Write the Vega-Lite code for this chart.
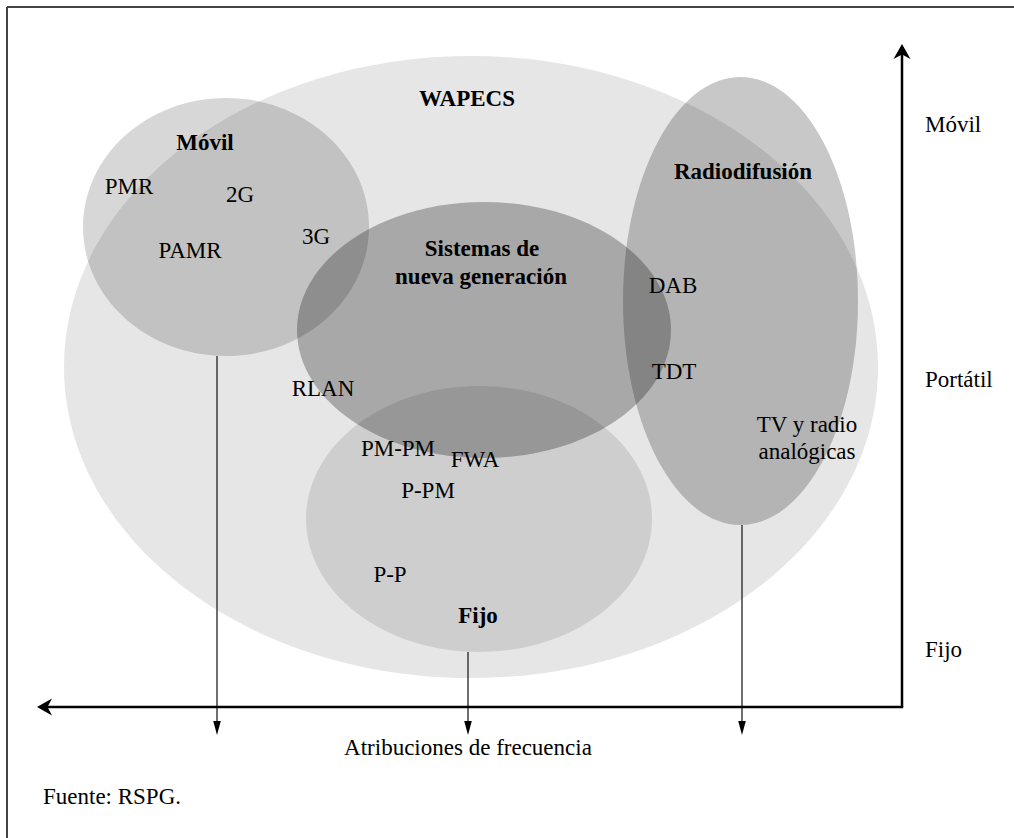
{
  "$schema": "https://vega.github.io/schema/vega-lite/v6.json",
  "width": 1014,
  "height": 838,
  "padding": 0,
  "autosize": {"type": "none"},
  "background": "white",
  "config": {"view": {"stroke": null}},
  "datasets": {
    "ellipses": [
      {"name": "WAPECS", "x": 471, "y": 367},
      {"name": "Fijo", "x": 479, "y": 519},
      {"name": "Móvil", "x": 226, "y": 227},
      {"name": "Radiodifusión", "x": 740.5, "y": 301},
      {"name": "Sistemas", "x": 484, "y": 330}
    ],
    "frame": [
      {"x": 7, "y": 7, "x2": 1014, "y2": 7},
      {"x": 7, "y": 7, "x2": 7, "y2": 838}
    ],
    "axes": [
      {"x": 902, "y": 707, "x2": 902, "y2": 54},
      {"x": 903.2, "y": 707, "x2": 46, "y2": 707}
    ],
    "thin": [
      {"x": 217, "y": 356, "x2": 217, "y2": 724},
      {"x": 468, "y": 652, "x2": 468, "y2": 724},
      {"x": 742, "y": 525, "x2": 742, "y2": 724}
    ],
    "heads": [
      {"dir": "up", "x": 902, "y": 52},
      {"dir": "left", "x": 45, "y": 707},
      {"dir": "down", "x": 217, "y": 728},
      {"dir": "down", "x": 468, "y": 728},
      {"dir": "down", "x": 742, "y": 728}
    ],
    "bold": [
      {"label": "WAPECS", "x": 467, "y": 99},
      {"label": "Móvil", "x": 205, "y": 143},
      {"label": "Sistemas de", "x": 482, "y": 249},
      {"label": "nueva generación", "x": 481, "y": 277},
      {"label": "Radiodifusión", "x": 743, "y": 172},
      {"label": "Fijo", "x": 478, "y": 616}
    ],
    "regular": [
      {"label": "PMR", "x": 129, "y": 187},
      {"label": "2G", "x": 240, "y": 195},
      {"label": "3G", "x": 316, "y": 237},
      {"label": "PAMR", "x": 190, "y": 251},
      {"label": "DAB", "x": 673, "y": 286},
      {"label": "TDT", "x": 674, "y": 372},
      {"label": "TV y radio", "x": 807, "y": 425},
      {"label": "analógicas", "x": 807, "y": 452},
      {"label": "RLAN", "x": 323, "y": 389},
      {"label": "PM-PM", "x": 398, "y": 449},
      {"label": "FWA", "x": 475, "y": 460},
      {"label": "P-PM", "x": 428, "y": 491},
      {"label": "P-P", "x": 390, "y": 575},
      {"label": "Atribuciones de frecuencia", "x": 468, "y": 748}
    ],
    "left": [
      {"label": "Móvil", "x": 925, "y": 125},
      {"label": "Portátil", "x": 925, "y": 380},
      {"label": "Fijo", "x": 925, "y": 650},
      {"label": "Fuente: RSPG.", "x": 43, "y": 797}
    ]
  },
  "encoding": {
    "x": {"field": "x", "type": "quantitative", "scale": {"domain": [0, 1014], "nice": false, "zero": false}, "axis": null},
    "y": {"field": "y", "type": "quantitative", "scale": {"domain": [0, 838], "nice": false, "zero": false, "reverse": true}, "axis": null}
  },
  "layer": [
    {
      "data": {"name": "ellipses"},
      "transform": [{"filter": "datum.name === 'WAPECS'"}],
      "mark": {"type": "point", "filled": true, "size": 4, "strokeWidth": 0, "fill": "#e6e6e6", "opacity": 1,
        "shape": "M407,0C407,171.8,224.8,311,0,311C-224.8,311,-407,171.8,-407,0C-407,-171.8,-224.8,-311,0,-311C224.8,-311,407,-171.8,407,0Z"}
    },
    {
      "data": {"name": "ellipses"},
      "transform": [{"filter": "datum.name === 'Fijo'"}],
      "mark": {"type": "point", "filled": true, "size": 4, "strokeWidth": 0, "fill": "#000000", "opacity": 0.1,
        "shape": "M173,0C173,73.5,95.5,133,0,133C-95.5,133,-173,73.5,-173,0C-173,-73.5,-95.5,-133,0,-133C95.5,-133,173,-73.5,173,0Z"}
    },
    {
      "data": {"name": "ellipses"},
      "transform": [{"filter": "datum.name === 'Móvil'"}],
      "mark": {"type": "point", "filled": true, "size": 4, "strokeWidth": 0, "fill": "#000000", "opacity": 0.155,
        "shape": "M143,0C143,71.2,79,129,0,129C-79,129,-143,71.2,-143,0C-143,-71.2,-79,-129,0,-129C79,-129,143,-71.2,143,0Z"}
    },
    {
      "data": {"name": "ellipses"},
      "transform": [{"filter": "datum.name === 'Radiodifusión'"}],
      "mark": {"type": "point", "filled": true, "size": 4, "strokeWidth": 0, "fill": "#000000", "opacity": 0.215,
        "shape": "M117.5,0C117.5,123.7,64.9,224,0,224C-64.9,224,-117.5,123.7,-117.5,0C-117.5,-123.7,-64.9,-224,0,-224C64.9,-224,117.5,-123.7,117.5,0Z"}
    },
    {
      "data": {"name": "ellipses"},
      "transform": [{"filter": "datum.name === 'Sistemas'"}],
      "mark": {"type": "point", "filled": true, "size": 4, "strokeWidth": 0, "fill": "#000000", "opacity": 0.265,
        "shape": "M187,0C187,70.7,103.3,128,0,128C-103.3,128,-187,70.7,-187,0C-187,-70.7,-103.3,-128,0,-128C103.3,-128,187,-70.7,187,0Z"}
    },
    {
      "data": {"name": "frame"},
      "mark": {"type": "rule", "color": "#444444", "strokeWidth": 2},
      "encoding": {"x2": {"field": "x2"}, "y2": {"field": "y2"}}
    },
    {
      "data": {"name": "thin"},
      "mark": {"type": "rule", "color": "#222222", "strokeWidth": 1.3},
      "encoding": {"x2": {"field": "x2"}, "y2": {"field": "y2"}}
    },
    {
      "data": {"name": "axes"},
      "mark": {"type": "rule", "color": "#000000", "strokeWidth": 2.5},
      "encoding": {"x2": {"field": "x2"}, "y2": {"field": "y2"}}
    },
    {
      "data": {"name": "heads"},
      "transform": [{"filter": "datum.dir === 'up'"}],
      "mark": {"type": "point", "filled": true, "size": 4, "strokeWidth": 0, "opacity": 1, "fill": "#000000",
        "shape": "M0,-8L8.5,7L0,2.5L-8.5,7Z"}
    },
    {
      "data": {"name": "heads"},
      "transform": [{"filter": "datum.dir === 'left'"}],
      "mark": {"type": "point", "filled": true, "size": 4, "strokeWidth": 0, "opacity": 1, "fill": "#000000",
        "shape": "M-8,0L7,-8.5L2.5,0L7,8.5Z"}
    },
    {
      "data": {"name": "heads"},
      "transform": [{"filter": "datum.dir === 'down'"}],
      "mark": {"type": "point", "filled": true, "size": 4, "strokeWidth": 0, "opacity": 1, "fill": "#000000",
        "shape": "M0,7L-3.8,-7L3.8,-7Z"}
    },
    {
      "data": {"name": "bold"},
      "mark": {"type": "text", "font": "Liberation Serif", "fontSize": 23, "fontWeight": "bold", "align": "center", "baseline": "middle", "color": "#000000"},
      "encoding": {"text": {"field": "label"}}
    },
    {
      "data": {"name": "regular"},
      "mark": {"type": "text", "font": "Liberation Serif", "fontSize": 23, "align": "center", "baseline": "middle", "color": "#000000"},
      "encoding": {"text": {"field": "label"}}
    },
    {
      "data": {"name": "left"},
      "mark": {"type": "text", "font": "Liberation Serif", "fontSize": 23, "align": "left", "baseline": "middle", "color": "#000000"},
      "encoding": {"text": {"field": "label"}}
    }
  ]
}
